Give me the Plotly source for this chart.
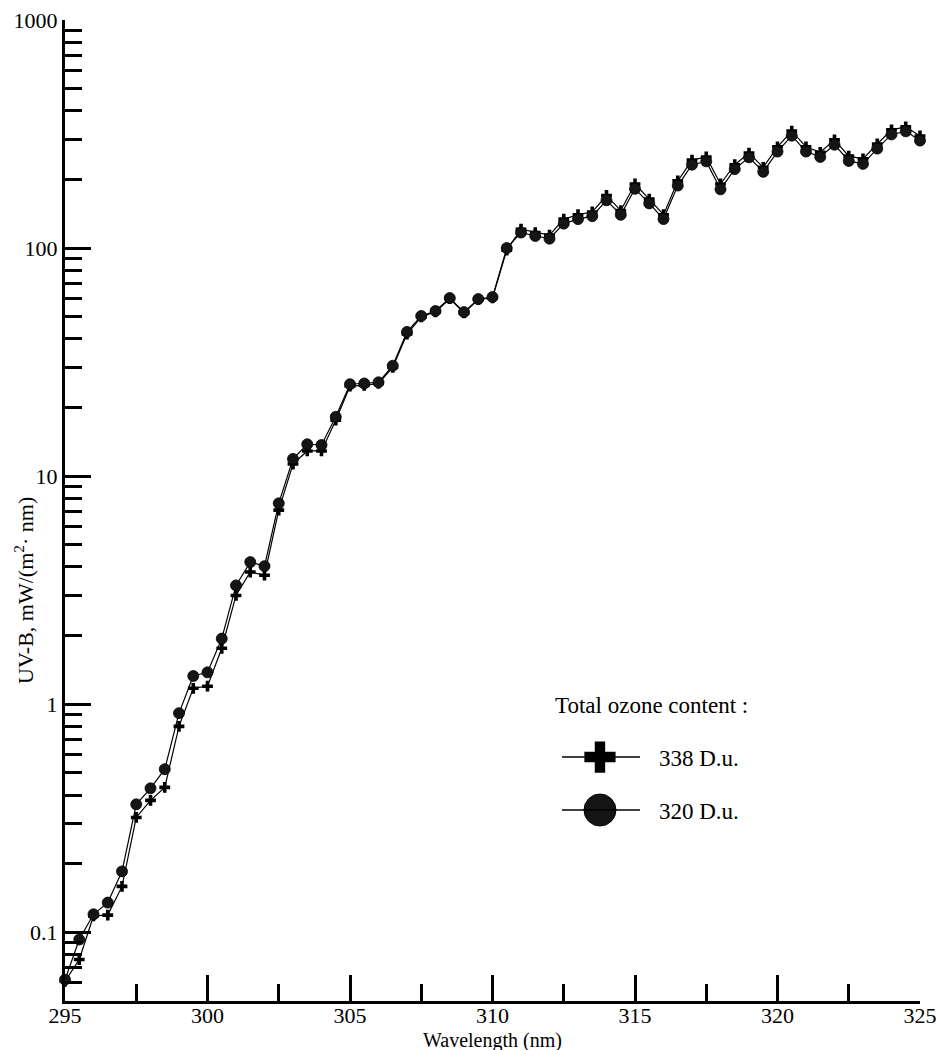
import plotly.graph_objects as go
import numpy as np

wavelength = [295 + 0.5 * i for i in range(61)]

uv_320 = [0.062, 0.093, 0.12, 0.135, 0.185, 0.364, 0.428, 0.519, 0.914, 1.33,
          1.38, 1.94, 3.32, 4.2, 4.03, 7.6, 11.9, 13.8, 13.7, 18.2,
          25.3, 25.5, 25.8, 30.5, 42.9, 50.4, 53.0, 60.4, 52.4, 59.8,
          61.0, 100, 117, 113, 110, 128, 134, 138, 162, 140,
          182, 157, 134, 188, 232, 240, 181, 222, 250, 216,
          265, 311, 265, 251, 284, 241, 234, 273, 315, 325, 296]

uv_338 = [0.061, 0.076, 0.118, 0.119, 0.159, 0.319, 0.379, 0.432, 0.80, 1.175,
          1.20, 1.76, 3.0, 3.8, 3.68, 7.1, 11.3, 12.9, 12.9, 17.6,
          24.8, 25.0, 25.5, 30.0, 42.0, 50.0, 52.5, 60.0, 52.0, 59.5,
          60.5, 98, 121, 117, 114, 134, 140, 144, 170, 146,
          191, 164, 140, 197, 243, 251, 191, 232, 261, 226,
          278, 326, 278, 263, 298, 253, 246, 286, 330, 340, 310]

series_labels = ["338 D.u.", "320 D.u."]
legend_title = "Total ozone content :"
y_tick_vals = [0.1, 1, 10, 100, 1000]
y_tick_text = ["0.1", "1", "10", "100", "1000"]
x_tick_vals = [295, 300, 305, 310, 315, 320, 325]

FONT = "Liberation Serif"

minor_y = []
for d in [0.01, 0.1, 1, 10, 100]:
    for k in range(2, 10):
        v = k * d
        if 0.05 <= v <= 1000:
            minor_y.append(v)

fig = go.Figure()

fig.add_trace(go.Scatter(
    x=wavelength, y=uv_338, mode="lines+markers", name=series_labels[0],
    line=dict(color="black", width=1.2),
    marker=dict(symbol="cross", size=9, color="black"),
    cliponaxis=False, showlegend=False))

fig.add_trace(go.Scatter(
    x=wavelength, y=uv_320, mode="lines+markers", name=series_labels[1],
    line=dict(color="black", width=1.2),
    marker=dict(symbol="circle", size=11, color="#151515",
                line=dict(color="black", width=0.8)),
    cliponaxis=False, showlegend=False))

# Custom legend drawn on hidden overlay axes (0..1 over the plot area)
leg_x0, leg_x1, leg_xm, leg_tx = 0.5813, 0.6725, 0.6257, 0.6924
leg_y = [0.2487, 0.1947]
leg_ty = [0.2467, 0.1927]
for yy in leg_y:
    fig.add_shape(type="line", xref="paper", yref="paper",
                  x0=leg_x0, x1=leg_x1, y0=yy, y1=yy,
                  line=dict(color="black", width=1.5))
fig.add_trace(go.Scatter(
    x=[leg_xm], y=[leg_y[0]], xaxis="x2", yaxis="y2", mode="markers",
    marker=dict(symbol="cross", size=26, color="black"),
    showlegend=False, hoverinfo="skip"))
fig.add_trace(go.Scatter(
    x=[leg_xm], y=[leg_y[1]], xaxis="x2", yaxis="y2", mode="markers",
    marker=dict(symbol="circle", size=32, color="#151515",
                line=dict(color="black", width=1)),
    showlegend=False, hoverinfo="skip"))

fig.add_annotation(x=0.571, y=0.3017, xref="paper", yref="paper",
                   text=legend_title, showarrow=False, xanchor="left",
                   yanchor="middle", font=dict(family=FONT, size=23, color="black"))
for yy, lab in zip(leg_ty, series_labels):
    fig.add_annotation(x=leg_tx, y=yy, xref="paper", yref="paper",
                       text=lab, showarrow=False, xanchor="left",
                       yanchor="middle", font=dict(family=FONT, size=23, color="black"))

# Axis titles
fig.add_annotation(x=0.5, y=-0.0405, xref="paper", yref="paper",
                   text="Wavelength (nm)", showarrow=False, xanchor="center",
                   yanchor="middle", font=dict(family=FONT, size=20, color="black"))
fig.add_annotation(x=-0.048, y=0.419, xref="paper", yref="paper",
                   text="UV-B, mW/(m<sup>2</sup>· nm)", showarrow=False,
                   textangle=-90, xanchor="center", yanchor="middle",
                   font=dict(family=FONT, size=22, color="black"))

fig.update_layout(
    width=936, height=1050,
    margin=dict(l=65, r=16, t=20, b=49, autoexpand=False),
    paper_bgcolor="white", plot_bgcolor="white",
    font=dict(family=FONT, size=20, color="black"),
    xaxis=dict(range=[295, 325], tickvals=x_tick_vals, automargin=False,
               ticks="inside", ticklen=26, tickwidth=3, tickcolor="black",
               showline=True, linewidth=3, linecolor="black",
               showgrid=False, zeroline=False, ticklabelstandoff=-7,
               ticklabeloverflow="allow",
               tickfont=dict(family=FONT, size=22, color="black"),
               minor=dict(tickvals=[297.5, 302.5, 307.5, 312.5, 317.5, 322.5],
                          ticks="inside", ticklen=17, tickwidth=3,
                          tickcolor="black", showgrid=False)),
    yaxis=dict(type="log", range=[np.log10(0.05), 3], automargin=False,
               tickvals=y_tick_vals, ticktext=y_tick_text,
               ticks="inside", ticklen=26, tickwidth=3, tickcolor="black",
               showline=True, linewidth=3, linecolor="black",
               showgrid=False, zeroline=False, ticklabeloverflow="allow",
               tickfont=dict(family=FONT, size=22, color="black"),
               minor=dict(tickvals=minor_y, ticks="inside", ticklen=17,
                          tickwidth=3, tickcolor="black", showgrid=False)),
    xaxis2=dict(range=[0, 1], overlaying="x", visible=False),
    yaxis2=dict(range=[0, 1], overlaying="y", visible=False),
)

fig.write_html("out.html")
